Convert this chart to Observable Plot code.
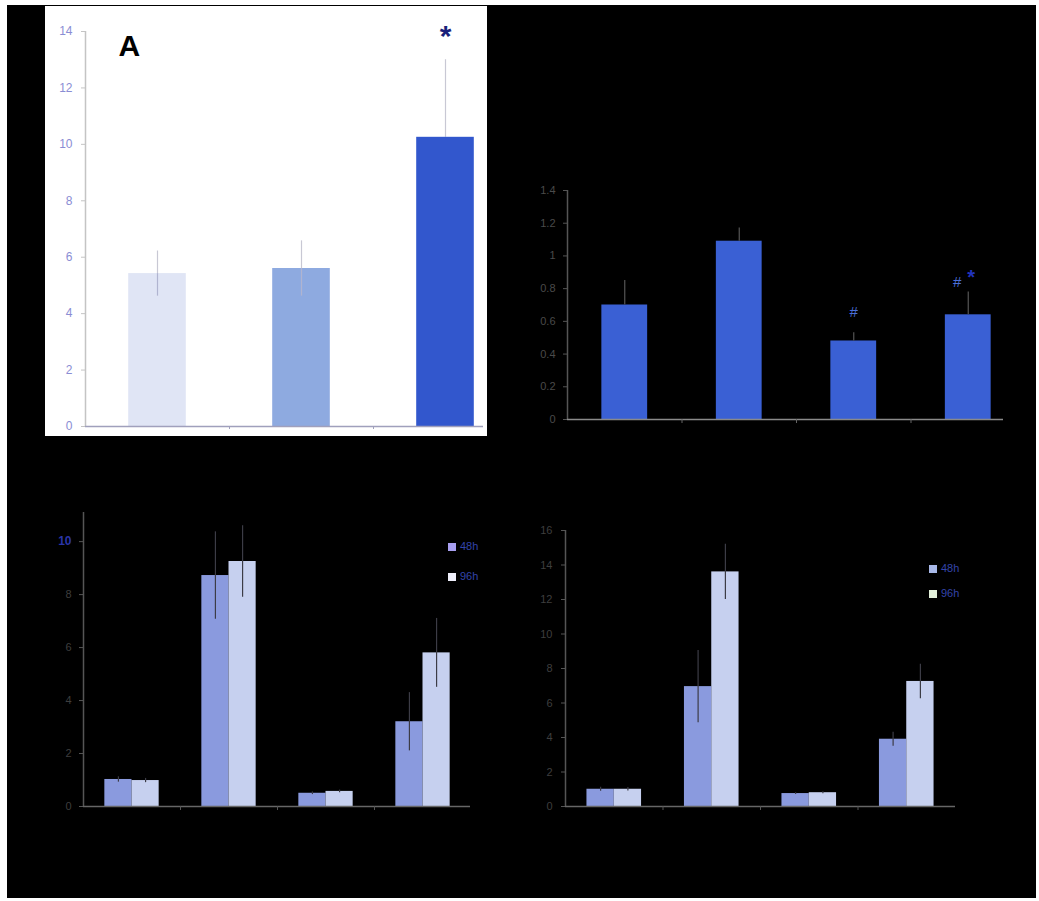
<!DOCTYPE html>
<html><head><meta charset="utf-8">
<script src="https://cdn.jsdelivr.net/npm/d3@7"></script>
<script src="https://cdn.jsdelivr.net/npm/@observablehq/plot@0.6"></script>
<style>
body{margin:0;background:#fff;width:1039px;height:901px;position:relative;overflow:hidden;font-family:"Liberation Sans",Arial,sans-serif}
#bg{position:absolute;left:7px;top:5px;width:1029px;height:893px;background:#000}
.panel{position:absolute}
.panel svg{display:block}
.leg{position:absolute;font-size:11px;color:#3344aa;display:flex;align-items:center;gap:4px;line-height:11px}
.sw{width:8px;height:8px;display:inline-block}
</style></head><body>
<div id="bg"></div>
<div id="pA" class="panel" style="left:45px;top:6px"></div>
<div id="pB" class="panel" style="left:510px;top:170px"></div>
<div id="pC" class="panel" style="left:40px;top:500px"></div>
<div id="pD" class="panel" style="left:520px;top:500px"></div>
<div class="leg" style="left:448px;top:541px"><span class="sw" style="background:#a89ff0"></span><span>48h</span></div>
<div class="leg" style="left:448px;top:571px"><span class="sw" style="background:#eeeefa"></span><span>96h</span></div>
<div class="leg" style="left:929px;top:563px"><span class="sw" style="background:#a8b8e8"></span><span>48h</span></div>
<div class="leg" style="left:929px;top:588px"><span class="sw" style="background:#e2f0da"></span><span>96h</span></div>
<script>
// ---- Panel A ----
const catsA = ["A1", "A2", "A3"];
const valA = [5.42, 5.6, 10.25];
const errA = [0.8, 0.98, 2.75];
const colA = ["#e0e5f5", "#8eaae0", "#3257cd"];
const ticksA = [0, 2, 4, 6, 8, 10, 12, 14];

// ---- Panel B ----
const catsB = ["B1", "B2", "B3", "B4"];
const valB = [0.70, 1.09, 0.48, 0.64];
const errB = [0.15, 0.08, 0.05, 0.14];
const marksB = ["", "", "#", "#"];
const starsB = ["", "", "", "*"];
const ticksB = [0, 0.2, 0.4, 0.6, 0.8, 1, 1.2, 1.4];

// ---- Panel C ----
const groupsC = ["C1", "C2", "C3", "C4"];
const c48 = [1.02, 8.72, 0.50, 3.2];
const c48err = [0.1, 1.65, 0.05, 1.1];
const c96 = [0.98, 9.25, 0.57, 5.8];
const c96err = [0.08, 1.35, 0.05, 1.3];
const ticksC = [0, 2, 4, 6, 8];
const ticksCblue = [10];

// ---- Panel D ----
const groupsD = ["D1", "D2", "D3", "D4"];
const d48 = [1.0, 6.95, 0.75, 3.9];
const d48err = [0.12, 2.1, 0.05, 0.4];
const d96 = [1.0, 13.6, 0.8, 7.25];
const d96err = [0.1, 1.6, 0.06, 1.0];
const ticksD = [0, 2, 4, 6, 8, 10, 12, 14, 16];

const series = ["48h", "96h"];
const seriesColors = ["#8a9ade", "#c6d0ef"];
const font = "Liberation Sans, Arial, sans-serif";

// Panel A
{
  const data = catsA.map((c, i) => ({c, i, v: valA[i], e: errA[i], col: colA[i]}));
  const chart = Plot.plot({
    width: 442, height: 430,
    marginLeft: 40, marginRight: 4, marginTop: 25, marginBottom: 10,
    x: {type: "linear", domain: [0, catsA.length], range: [40, 472]},
    y: {domain: [0, 14], range: [420, 25]},
    style: {background: "#fff", fontFamily: font, fontSize: "12px", overflow: "hidden"},
    marks: [
      Plot.ruleX(data, {x: d => d.i + 0.5, y1: "v", y2: d => d.v + d.e, stroke: "#c8c8d4", strokeWidth: 1.2}),
      Plot.rect(data, {x1: d => d.i + 0.3, x2: d => d.i + 0.7, y1: 0, y2: "v", fill: "col"}),
      Plot.ruleX(data.filter(d => d.i < 2), {x: d => d.i + 0.5, y1: "v", y2: d => d.v - d.e, stroke: "#b0b4d0", strokeWidth: 1.2}),
      Plot.ruleX([0], {stroke: "#c4c4c4", strokeWidth: 1.5}),
      Plot.ruleY([0], {stroke: "#a0a0bc", strokeWidth: 1.5}),
      Plot.axisY({ticks: ticksA, tickSize: 4, tickPadding: 9, stroke: "#c4c4c4", fill: "#8a8dd4", label: null, fontSize: 12}),
      Plot.axisX({ticks: [1, 2], tickSize: 3, tickFormat: () => "", stroke: "#a0a0bc", label: null}),
      Plot.text(data.filter(d => d.i === 2), {x: d => d.i + 0.5, y: d => d.v + d.e, text: () => "*", fill: "#1a1f7a", fontSize: 30, fontWeight: "bold", dy: -23}),
      Plot.text(["A"], {frameAnchor: "top-left", dx: 33, dy: 3, fontSize: 30, fontWeight: "bold", fill: "#000", text: d => d})
    ]
  });
  document.getElementById("pA").append(chart);
}

// Panel B
{
  const data = catsB.map((c, i) => ({c, i, v: valB[i], e: errB[i], m: marksB[i], s: starsB[i]}));
  const chart = Plot.plot({
    width: 525, height: 270,
    marginLeft: 57, marginRight: 32, marginTop: 20, marginBottom: 21,
    x: {type: "linear", domain: [0, catsB.length], range: [57, 515]},
    y: {domain: [0, 1.4], range: [249, 20]},
    style: {background: "#000", fontFamily: font, fontSize: "11px", overflow: "hidden"},
    marks: [
      Plot.rect(data, {x1: d => d.i + 0.3, x2: d => d.i + 0.7, y1: 0, y2: "v", fill: "#3a60d4"}),
      Plot.ruleX(data, {x: d => d.i + 0.5, y1: "v", y2: d => d.v + d.e, stroke: "#555", strokeWidth: 1.2}),
      Plot.ruleX([0], {stroke: "#555", strokeWidth: 1.5}),
      Plot.ruleY([0], {stroke: "#8a8a8a", strokeWidth: 1.5}),
      Plot.axisY({ticks: ticksB, tickFormat: d => String(d), tickSize: 4, tickPadding: 8, stroke: "#555", fill: "#4a4a4a", label: null, fontSize: 11}),
      Plot.axisX({ticks: [1, 2, 3], tickSize: 4, tickFormat: () => "", stroke: "#666", label: null}),
      Plot.text(data.filter(d => d.m && !d.s), {x: d => d.i + 0.5, y: d => d.v + d.e, text: "m", fill: "#4a6ed8", fontSize: 15, dy: -21}),
      Plot.text(data.filter(d => d.m && d.s), {x: d => d.i + 0.5, y: d => d.v + d.e, text: "m", fill: "#4a6ed8", fontSize: 15, dy: -10, dx: -11}),
      Plot.text(data.filter(d => d.s), {x: d => d.i + 0.5, y: d => d.v + d.e, text: "s", fill: "#2233bb", fontSize: 20, fontWeight: "bold", dy: -14, dx: 3})
    ]
  });
  document.getElementById("pB").append(chart);
}

function grouped(el, groups, a, ae, b, be, opts) {
  const data = [];
  groups.forEach((g, i) => {
    data.push({g, i, s: 0, v: a[i], e: ae[i]});
    data.push({g, i, s: 1, v: b[i], e: be[i]});
  });
  const w = 0.28;
  const x1 = d => d.i + 0.5 + (d.s - 1) * w;
  const x2 = d => d.i + 0.5 + d.s * w;
  const xc = d => d.i + 0.5 + (d.s - 0.5) * w;
  const chart = Plot.plot({
    width: 440, height: 320,
    marginLeft: opts.ml, marginRight: opts.mr, marginTop: opts.mt, marginBottom: 14,
    x: {type: "linear", domain: [0, groups.length], range: opts.xr},
    y: {domain: opts.yd, range: [306, opts.mt]},
    style: {background: "#000", fontFamily: font, fontSize: "11px", overflow: "hidden"},
    marks: [
      Plot.rect(data, {x1, x2, y1: 0, y2: "v", fill: d => seriesColors[d.s]}),
      Plot.ruleX(data, {x: xc, y1: d => d.v - d.e, y2: d => d.v + d.e, stroke: "#3c3c46", strokeWidth: 1.2}),
      Plot.ruleX([0], {stroke: "#555", strokeWidth: 1.5}),
      Plot.ruleY([0], {stroke: "#666", strokeWidth: 1.5}),
      ...opts.axes,
      Plot.axisX({ticks: [1, 2, 3], tickSize: 4, tickFormat: () => "", stroke: "#555", label: null})
    ]
  });
  document.getElementById(el).append(chart);
}

grouped("pC", groupsC, c48, c48err, c96, c96err, {
  ml: 43, mr: 10, mt: 12, yd: [0, 11.1], xr: [43, 431],
  axes: [
    Plot.axisY({ticks: ticksC, tickSize: 4, tickPadding: 8, stroke: "#555", fill: "#3e3e3e", label: null, fontSize: 11}),
    Plot.axisY({ticks: ticksCblue, tickSize: 4, tickPadding: 8, stroke: "#555", fill: "#2a35a8", label: null, fontSize: 12, fontWeight: "bold"})
  ]
});

grouped("pD", groupsD, d48, d48err, d96, d96err, {
  ml: 45, mr: 5, mt: 30, yd: [0, 16], xr: [45, 435],
  axes: [
    Plot.axisY({ticks: ticksD, tickSize: 4, tickPadding: 9, stroke: "#555", fill: "#3e3e3e", label: null, fontSize: 11})
  ]
});
</script>
</body></html>
